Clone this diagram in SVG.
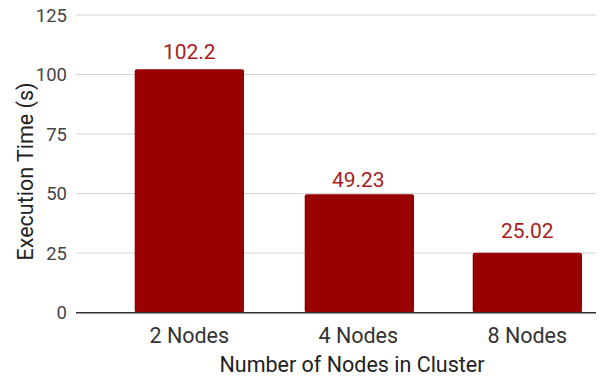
<svg xmlns="http://www.w3.org/2000/svg" width="600" height="380" viewBox="0 0 600 380">
<style>
.grid{stroke:#d6d6d6;stroke-width:1.2}
.base{stroke:#333;stroke-width:1.5}
.tick{font-family:Roboto,"Liberation Sans",sans-serif;font-size:18.5px;fill:#444;text-anchor:end}
.cat{font-family:Roboto,"Liberation Sans",sans-serif;font-size:21.5px;fill:#333;text-anchor:middle}
.title{font-family:Roboto,"Liberation Sans",sans-serif;font-size:21.5px;fill:#222;text-anchor:middle}
.val{font-family:Roboto,"Liberation Sans",sans-serif;font-size:21px;fill:#a61c1c;text-anchor:middle}
.bar{fill:#990000}
</style>
<rect width="600" height="380" fill="#fff"/>
<g id="gridlines">
<line class="grid" x1="76" y1="15" x2="596" y2="15"/>
<line class="grid" x1="76" y1="74.5" x2="596" y2="74.5"/>
<line class="grid" x1="76" y1="134" x2="596" y2="134"/>
<line class="grid" x1="76" y1="193.5" x2="596" y2="193.5"/>
<line class="grid" x1="76" y1="253" x2="596" y2="253"/>
</g>
<g id="yticks">
<text class="tick" x="67" y="21.5">125</text>
<text class="tick" x="67" y="81">100</text>
<text class="tick" x="67" y="140.5">75</text>
<text class="tick" x="67" y="200">50</text>
<text class="tick" x="67" y="259.5">25</text>
<text class="tick" x="67" y="319">0</text>
</g>
<g id="bar-2nodes">
<rect class="bar" x="134.7" y="69.3" width="109.3" height="243.5" rx="2"/>
<text class="val" x="189.3" y="59.3">102.2</text>
<text class="cat" x="189.3" y="342.5">2 Nodes</text>
</g>
<g id="bar-4nodes">
<rect class="bar" x="304.7" y="194.3" width="109.3" height="118.5" rx="2"/>
<text class="val" x="358.3" y="186.7">49.23</text>
<text class="cat" x="358.3" y="342.5">4 Nodes</text>
</g>
<g id="bar-8nodes">
<rect class="bar" x="472.7" y="252.7" width="109.3" height="60.1" rx="2"/>
<text class="val" x="527.3" y="238">25.02</text>
<text class="cat" x="527.3" y="342.5">8 Nodes</text>
</g>
<g id="axis">
<line class="base" x1="76" y1="312.7" x2="596" y2="312.7"/>
</g>
<text class="title" x="352" y="372">Number of Nodes in Cluster</text>
<text class="title" transform="translate(32.5 171.5) rotate(-90)">Execution Time (s)</text>
</svg>
